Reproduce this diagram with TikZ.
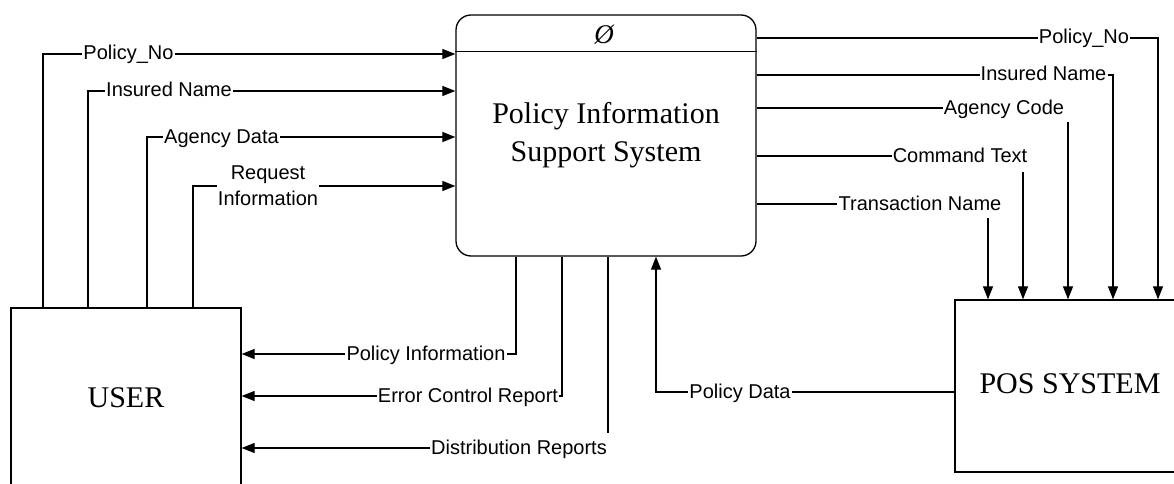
\documentclass[tikz,border=0pt]{standalone}
\usepackage{fontspec}
\setmainfont{Liberation Serif}
\setsansfont{Liberation Sans}
\usetikzlibrary{arrows.meta}

\begin{document}
\begin{tikzpicture}[x=1pt, y=-1pt, >={Triangle[length=13pt,width=10pt]},
    process/.style = {draw, line width=1.3pt, rounded corners=15pt, minimum width=300pt, minimum height=241pt, align=center, font=\fontsize{30}{38}\selectfont},
    entity/.style = {draw, line width=1.3pt, font=\fontsize{30}{36}\selectfont},
    flowtext/.style = {inner sep=1pt, font=\sffamily\fontsize{20}{25}\selectfont, text height=14pt, text depth=2pt},
    twoline/.style = {inner sep=1pt, align=center, font=\sffamily\fontsize{20}{26}\selectfont},
    flow/.style = {line width=1.2pt}]
    \useasboundingbox (0,0) rectangle (1174,484);
    \clip (0,0) rectangle (1174,484);
    % boxes
    \node[process] (1) at (606,135.5) {Policy Information\\Support System};
    \node[entity, minimum width=230pt, minimum height=180pt] (2) at (126,398) {USER};
    \node[entity, minimum width=230pt, minimum height=172pt, text depth=4pt] (3) at (1070,386) {POS SYSTEM};
    \node (0) at (604,35) {\fontsize{27}{27}\selectfont\itshape Ø};
    \draw[flow] ([yshift=-37pt]1.north west) -- ([yshift=-37pt]1.north east);
    % USER -> process
    \node[flowtext] (i1) at (128.5,54) {Policy\_No};
    \node[flowtext] (i2) at (169,91) {Insured Name};
    \node[flowtext] (i3) at (221.5,137) {Agency Data};
    \node[twoline] (i4) at (268,186) {Request\\Information};
    \draw[flow] (2.north -| 43,0) |- (i1.west);
    \draw[flow,->] (i1.east) -- (i1.east -| 1.west);
    \draw[flow] (2.north -| 88,0) |- (i2.west);
    \draw[flow,->] (i2.east) -- (i2.east -| 1.west);
    \draw[flow] (2.north -| 147,0) |- (i3.west);
    \draw[flow,->] (i3.east) -- (i3.east -| 1.west);
    \draw[flow] (2.north -| 193,0) |- (i4.west);
    \draw[flow,->] (i4.east) -- (i4.east -| 1.west);
    % process -> POS SYSTEM
    \node[flowtext] (o1) at (1084,38) {Policy\_No};
    \node[flowtext] (o2) at (1043.5,75) {Insured Name};
    \node[flowtext] (o3) at (1004,108) {Agency Code};
    \node[flowtext] (o4) at (960,156) {Command Text};
    \node[flowtext] (o5) at (920,204) {Transaction Name};
    \coordinate (v3) at (1068,122);
    \coordinate (v4) at (1023,172);
    \coordinate (v5) at (988,218);
    \draw[flow] (1.east |- o1) -- (o1.west);
    \draw[flow,->] (o1.east) -| (3.north -| 1158,0);
    \draw[flow] (1.east |- o2) -- (o2.west);
    \draw[flow,->] (o2.east) -| (3.north -| 1113,0);
    \draw[flow] (1.east |- o3) -- (o3.west);
    \draw[flow,->] (v3) -- (v3 |- 3.north);
    \draw[flow] (1.east |- o4) -- (o4.west);
    \draw[flow,->] (v4) -- (v4 |- 3.north);
    \draw[flow] (1.east |- o5) -- (o5.west);
    \draw[flow,->] (v5) -- (v5 |- 3.north);
    % process -> USER
    \node[flowtext] (u1) at (426,354) {Policy Information};
    \node[flowtext] (u2) at (468,396) {Error Control Report};
    \node[flowtext] (u3) at (519,448) {Distribution Reports};
    \draw[flow] (1.south -| 516,0) |- (u1.east);
    \draw[flow,->] (u1.west) -- (u1.west -| 2.east);
    \draw[flow] (1.south -| 562,0) |- (u2.east);
    \draw[flow,->] (u2.west) -- (u2.west -| 2.east);
    \draw[flow] (1.south -| u3.north east) -- ([yshift=6pt]u3.north east);
    \draw[flow,->] (u3.west) -- (u3.west -| 2.east);
    % POS SYSTEM -> process
    \node[flowtext] (p1) at (740,392) {Policy Data};
    \draw[flow,->] (p1.west) -| (1.south -| 656,0);
    \draw[flow] (p1.east) -- (p1.east -| 3.west);
\end{tikzpicture}
\end{document}
